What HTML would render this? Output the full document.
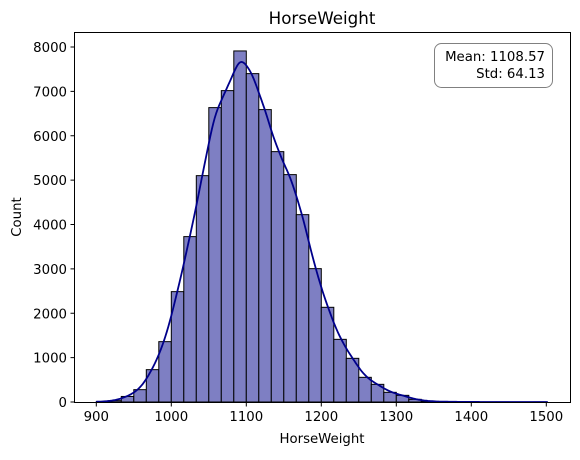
<!DOCTYPE html>
<html><head><meta charset="utf-8"><style>
body{margin:0;background:#fff;}
svg text{font-family:"DejaVu Sans","Liberation Sans",sans-serif;fill:#000;}
</style></head><body>
<svg width="580" height="455" xmlns="http://www.w3.org/2000/svg">
<g id="bars"></g>
<path id="kde" fill="none" stroke="#00008b" stroke-width="1.8"/>
<rect x="74.5" y="32.5" width="496" height="370" fill="none" stroke="#000" stroke-width="1"/>
<g id="xt"></g>
<g id="yt"></g>
<text x="322" y="24" font-size="16.7" text-anchor="middle">HorseWeight</text>
<text x="322" y="443" font-size="13.3" text-anchor="middle">HorseWeight</text>
<text transform="translate(21,217) rotate(-90)" font-size="13.3" text-anchor="middle">Count</text>
<g>
<rect x="434.5" y="43.5" width="118" height="44" rx="7" fill="#fff" stroke="#808080" stroke-width="1"/>
<text x="545" y="61" font-size="13.3" text-anchor="end">Mean: 1108.57</text>
<text x="545" y="78" font-size="13.3" text-anchor="end">Std: 64.13</text>
</g>
</svg>
<script>
const binStart = 900;
const binWidth = 600/36;
const counts = [10,30,125,278,729,1360,2487,3727,5101,6634,7017,7911,7400,6589,5642,5124,4222,3005,2134,1412,984,556,398,218,150,60,20,8,4,2,1,1,1,0,0,1];
const xTicks = [900,1000,1100,1200,1300,1400,1500];
const yTicks = [0,1000,2000,3000,4000,5000,6000,7000,8000];
const NS="http://www.w3.org/2000/svg";
const X=v=>96.3+(v-900)*0.75;
const Y=v=>402-v*355/8000;
const bars=document.getElementById('bars');
counts.forEach((c,i)=>{
  const r=document.createElementNS(NS,'rect');
  
  
  const x0=X(binStart+i*binWidth),x1=X(binStart+(i+1)*binWidth);
  r.setAttribute('x',x0);r.setAttribute('width',x1-x0);
  r.setAttribute('y',Y(c));r.setAttribute('height',402-Y(c));
  r.setAttribute('fill','#7e7fc3');r.setAttribute('stroke','#000');r.setAttribute('stroke-width','1');
  bars.appendChild(r);
});
const bw=10.5; let d='';
for(let v=900;v<=1503;v+=2){
  let s=0;
  counts.forEach((c,i)=>{const m=binStart+(i+0.5)*binWidth;const z=(v-m)/bw;s+=c*Math.exp(-0.5*z*z);});
  s=s*binWidth/(bw*Math.sqrt(2*Math.PI));
  d+=(d?'L':'M')+X(v).toFixed(1)+','+Y(s).toFixed(1);
}
document.getElementById('kde').setAttribute('d',d);
const xt=document.getElementById('xt');
xTicks.forEach(t=>{
  const l=document.createElementNS(NS,'line');
  
  
  l.setAttribute('x1',X(t));l.setAttribute('x2',X(t));l.setAttribute('y1',402.5);l.setAttribute('y2',406.5);l.setAttribute('stroke','#000');
  xt.appendChild(l);
  const tx=document.createElementNS(NS,'text');
  
  
  tx.setAttribute('x',X(t));tx.setAttribute('y',421);tx.setAttribute('font-size','13.3');tx.setAttribute('text-anchor','middle');
  tx.textContent=t;xt.appendChild(tx);
});
const yt=document.getElementById('yt');
yTicks.forEach(t=>{
  const l=document.createElementNS(NS,'line');
  
  
  l.setAttribute('x1',70.5);l.setAttribute('x2',74.5);l.setAttribute('y1',Y(t));l.setAttribute('y2',Y(t));l.setAttribute('stroke','#000');
  yt.appendChild(l);
  const tx=document.createElementNS(NS,'text');
  
  
  tx.setAttribute('x',67);tx.setAttribute('y',Y(t)+5);tx.setAttribute('font-size','13.3');tx.setAttribute('text-anchor','end');
  tx.textContent=t;yt.appendChild(tx);
});
</script>
</body></html>
